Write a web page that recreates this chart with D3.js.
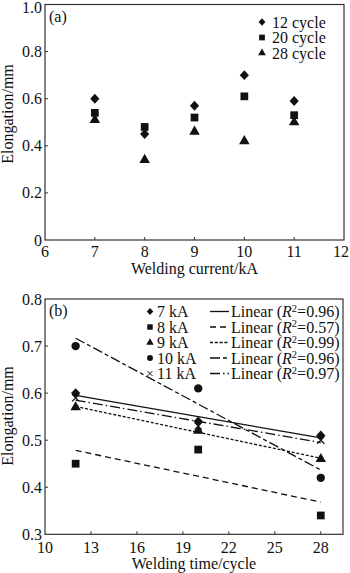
<!DOCTYPE html>
<html><head><meta charset="utf-8">
<script src="https://cdn.jsdelivr.net/npm/d3@7"></script>
<style>
body{margin:0;background:#fff;}
svg{display:block;font-family:"Liberation Serif","Times New Roman",serif;}
</style></head><body>
<svg id="c" width="350" height="573"></svg>
<script>
// ---- data ----
const currents = [7, 8, 9, 10, 11];           // kA
const cycles = [12, 20, 28];                    // welding time (cycle)
const cycle12 = [0.60, 0.45, 0.57, 0.70, 0.59]; // elongation at 12 cycle
const cycle20 = [0.54, 0.48, 0.52, 0.61, 0.53]; // at 20 cycle
const cycle28 = [0.51, 0.34, 0.46, 0.42, 0.50]; // at 28 cycle
const r2Labels = ["0.96", "0.57", "0.99", "0.96", "0.97"];
const xTicksA = [6, 7, 8, 9, 10, 11, 12];
const yTicksA = [0, 0.2, 0.4, 0.6, 0.8, 1.0];
const xTicksB = [10, 13, 16, 19, 22, 25, 28];
const yTicksB = [0.3, 0.4, 0.5, 0.6, 0.7, 0.8];

const svg = d3.select("#c");
const ink = "#111";
const axisCol = "#333";
const FS = 16;

const diamondType = {
  draw(ctx, size) {
    const r = Math.sqrt(size) * 0.62;
    ctx.moveTo(0, -r * 1.08); ctx.lineTo(r, 0); ctx.lineTo(0, r * 1.08); ctx.lineTo(-r, 0); ctx.closePath();
  }
};
function sym(name, size) {
  const map = {diamond: diamondType, square: d3.symbolSquare, triangle: d3.symbolTriangle, circle: d3.symbolCircle, cross: d3.symbolX};
  return d3.symbol().type(map[name]).size(size)();
}

function frame(x, y, x0, x1, y0, y1, xt, yt, yfmt, xlabel, tag, ylabelY, xlabBase, xtitleBase) {
  const g = svg.append("g");
  g.append("rect").attr("x", x0).attr("y", y1).attr("width", x1 - x0).attr("height", y0 - y1)
    .attr("fill", "none").attr("stroke", axisCol).attr("stroke-width", 1.2);
  xt.forEach(t => {
    const px = x(t);
    if (px > x0 + 1 && px < x1 - 1) g.append("line").attr("x1", px).attr("x2", px).attr("y1", y0).attr("y2", y0 - 3).attr("stroke", axisCol);
    g.append("text").attr("x", Math.min(px, 341)).attr("y", xlabBase).attr("text-anchor", "middle").attr("font-size", FS).attr("fill", ink).text(t);
  });
  yt.forEach(t => {
    const py = y(t);
    if (py > y1 + 1 && py < y0 - 1) g.append("line").attr("x1", x0).attr("x2", x0 + 3).attr("y1", py).attr("y2", py).attr("stroke", axisCol);
    g.append("text").attr("x", x0 - 3).attr("y", Math.max(py + 5.5, 12.5)).attr("text-anchor", "end").attr("font-size", FS).attr("fill", ink).text(yfmt(t));
  });
  g.append("text").attr("x", (x0 + x1) / 2).attr("y", xtitleBase).attr("text-anchor", "middle").attr("font-size", FS).attr("fill", ink).text(xlabel);
  g.append("text").attr("transform", `translate(13,${ylabelY}) rotate(-90)`).attr("text-anchor", "middle").attr("font-size", FS).attr("fill", ink).text("Elongation/mm");
  g.append("text").attr("x", x0 + 4).attr("y", y1 + 17).attr("font-size", FS).attr("fill", ink).text(tag);
}

// ---------------- Panel (a) ----------------
{
  const x = d3.scaleLinear().domain([6, 12]).range([45, 344]);
  const y = d3.scaleLinear().domain([0, 1.0]).range([240, 4.5]);
  frame(x, y, 45, 344, 240, 4.5, xTicksA, yTicksA, d => d === 0 ? "0" : d3.format(".1f")(d),
    "Welding current/kA", "(a)", 114, 257, 274);
  const series = [
    {vals: cycle12, s: "diamond", size: 55, label: "12 cycle"},
    {vals: cycle20, s: "square", size: 60, label: "20 cycle"},
    {vals: cycle28, s: "triangle", size: 48, label: "28 cycle"}
  ];
  series.forEach((sr, i) => {
    svg.append("g").selectAll("path").data(currents).join("path")
      .attr("d", sym(sr.s, sr.size))
      .attr("transform", (c, j) => `translate(${x(c)},${y(sr.vals[j])})`)
      .attr("fill", ink);
    const ly = 22 + i * 15.5;
    svg.append("path").attr("d", sym(sr.s, sr.size * 0.55)).attr("transform", `translate(262,${ly})`).attr("fill", ink);
    svg.append("text").attr("x", 272).attr("y", ly + 5.5).attr("font-size", FS).attr("fill", ink).text(sr.label);
  });
}

// ---------------- Panel (b) ----------------
{
  const x = d3.scaleLinear().domain([10, 29.45]).range([45, 343]);
  const y = d3.scaleLinear().domain([0.3, 0.8]).range([534.3, 299]);
  frame(x, y, 45, 343, 534.3, 299, xTicksB, yTicksB, d3.format(".1f"),
    "Welding time/cycle", "(b)", 416, 553, 569);
  const byCycle = [cycle12, cycle20, cycle28];
  const shapes = ["diamond", "square", "triangle", "circle", "cross"];
  const sizes = [55, 60, 48, 55, 35];
  const dashes = [null, "6,4", "3,1.8", "10,3,4,3", "10,3,1.5,3"];
  currents.forEach((c, k) => {
    const vals = byCycle.map(arr => arr[k]);
    // least-squares linear trend, as in the original "Linear" fits
    const mx = d3.mean(cycles), my = d3.mean(vals);
    const sxy = d3.sum(cycles, (t, i) => (t - mx) * (vals[i] - my));
    const sxx = d3.sum(cycles, t => (t - mx) * (t - mx));
    const b = sxy / sxx, a = my - b * mx;
    const ends = [cycles[0], cycles[cycles.length - 1]];
    svg.append("path").datum(ends)
      .attr("d", d3.line().x(t => x(t)).y(t => y(a + b * t)))
      .attr("fill", "none").attr("stroke", ink).attr("stroke-width", 1.3)
      .attr("stroke-dasharray", dashes[k]);
    svg.append("g").selectAll("path").data(cycles).join("path")
      .attr("d", sym(shapes[k], sizes[k]))
      .attr("transform", (t, i) => `translate(${x(t)},${y(vals[i])})`)
      .attr("fill", ink).attr("stroke", shapes[k] === "cross" ? ink : "none").attr("stroke-width", 1.2);
    // legend
    const ly = 311.5 + k * 15.5;
    svg.append("path").attr("d", sym(shapes[k], sizes[k] * 0.5)).attr("transform", `translate(150,${ly})`)
      .attr("fill", ink).attr("stroke", shapes[k] === "cross" ? ink : "none");
    svg.append("text").attr("x", 157).attr("y", ly + 5.5).attr("font-size", FS).attr("fill", ink).text(`${c} kA`);
    svg.append("line").attr("x1", 210).attr("x2", 229).attr("y1", ly).attr("y2", ly)
      .attr("stroke", ink).attr("stroke-width", 1.3).attr("stroke-dasharray", dashes[k]);
    const t = svg.append("text").attr("x", 231).attr("y", ly + 5.5).attr("font-size", FS).attr("fill", ink);
    t.append("tspan").text("Linear (");
    t.append("tspan").attr("font-style", "italic").text("R");
    t.append("tspan").attr("font-size", 10.5).attr("dy", -5.5).text("2");
    t.append("tspan").attr("dy", 5.5).text(`=${r2Labels[k]})`);
  });
}
</script>
</body></html>
